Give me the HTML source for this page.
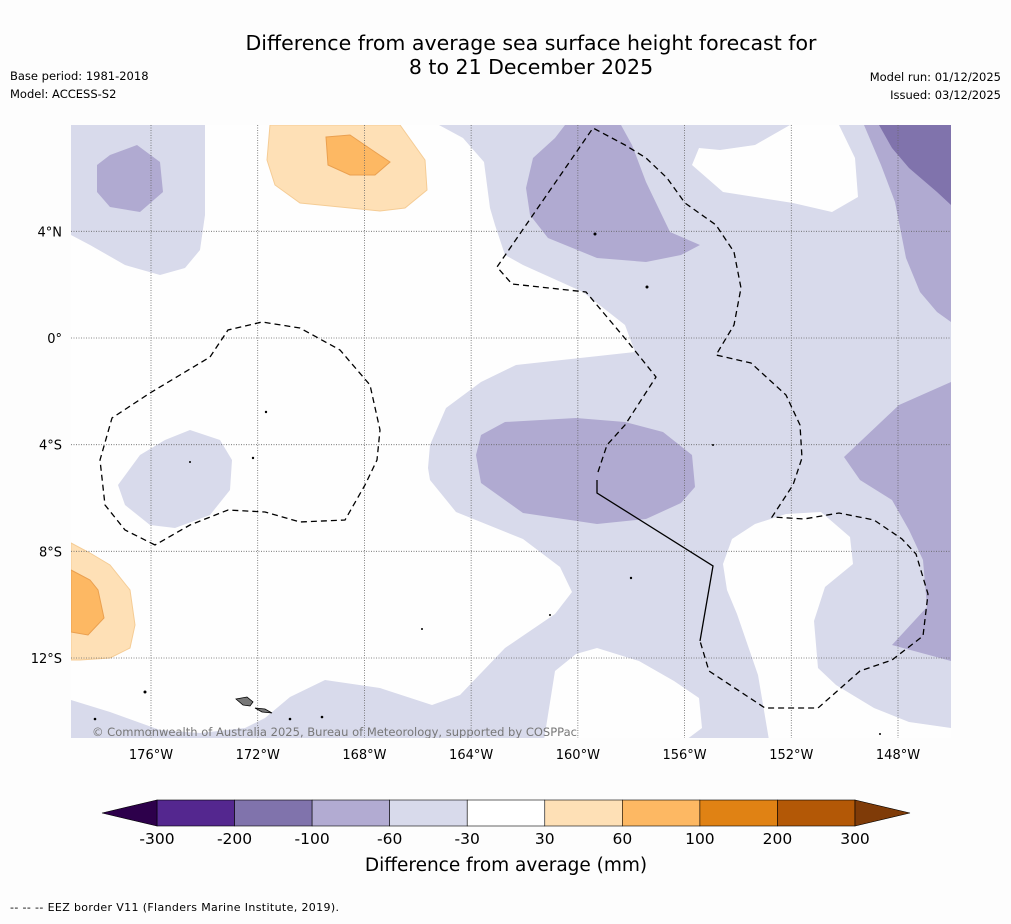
<!DOCTYPE html>
<html><head><meta charset="utf-8"><style>
html,body{margin:0;padding:0;background:#fdfdfd;}
body{width:1011px;height:919px;position:relative;overflow:hidden;font-family:"Liberation Sans","DejaVu Sans",sans-serif;}
svg text{font-family:"DejaVu Sans","Liberation Sans",sans-serif;}
</style></head><body>
<svg id="chart" width="1011" height="919" viewBox="0 0 1011 919" xmlns="http://www.w3.org/2000/svg">
<text x="531" y="50" font-size="20.5" text-anchor="middle" fill="#000">Difference from average sea surface height forecast for</text>
<text x="531" y="74" font-size="20.5" text-anchor="middle" fill="#000">8 to 21 December 2025</text>
<text x="10" y="80" font-size="11.5">Base period: 1981-2018</text>
<text x="10" y="98" font-size="11.5">Model: ACCESS-S2</text>
<text x="1001" y="81" font-size="11.5" text-anchor="end">Model run: 01/12/2025</text>
<text x="1001" y="99" font-size="11.5" text-anchor="end">Issued: 03/12/2025</text>
<defs><clipPath id="mapclip"><rect x="71" y="125" width="880" height="613"/></clipPath></defs>
<g id="map" clip-path="url(#mapclip)">
<rect x="71" y="125" width="880" height="613" fill="#fefefe"/>
<g fill="#d8daeb">
<polygon points="71,125 205,125 205,215 200,250 185,268 160,275 125,265 90,245 71,235"/>
<polygon points="439,125 463,138 484,162 490,208 495,225 505,255 523,265 583,292 625,325 635,352 516,365 481,382 446,408 430,445 428,468 430,480 456,512 523,539 560,567 572,592 555,614 505,648 460,695 432,705 380,688 325,680 290,697 265,718 245,728 200,733 160,730 110,712 71,700 71,738 951,738 951,125"/>
<polygon points="118,485 140,455 165,440 190,430 220,440 232,460 230,490 210,515 175,528 150,525 125,505"/>
</g>
<g fill="#fefefe">
<polygon points="692,165 699,148 720,150 755,145 790,125 839,125 855,158 858,197 832,212 793,203 723,192"/>
<polygon points="544,740 555,671 576,654 597,648 639,661 674,681 699,698 702,728 686,740"/>
<polygon points="769,740 758,675 737,614 727,590 723,564 732,539 755,524 786,514 821,512 850,537 853,564 825,587 814,621 818,668 836,685 874,708 909,722 951,728 951,740"/>
</g>
<g fill="#b0aad1">
<polygon points="97,165 110,155 137,145 160,162 163,192 140,212 110,207 97,192"/>
<polygon points="526,188 533,158 555,138 565,125 621,125 632,145 646,182 670,232 700,245 681,255 646,262 597,258 548,238 530,215"/>
<polygon points="476,455 481,435 505,422 576,418 625,422 663,432 692,455 695,487 681,503 646,519 597,524 523,513 481,483"/>
<polygon points="951,382 899,405 844,457 860,480 892,500 909,530 923,560 927,607 892,645 951,661"/>
<polygon points="864,125 881,165 895,202 906,258 920,292 937,312 951,322 951,125"/>
</g>
<polygon fill="#8073ac" points="879,125 892,148 909,168 937,192 951,205 951,125"/>
<polygon fill="#fee0b6" stroke="#f5cc95" points="270,125 400,125 425,160 427,190 405,208 380,211 300,203 275,185 267,160"/>
<polygon fill="#fdb863" stroke="#eaa050" points="326,137 350,135 375,152 390,162 375,175 350,175 328,165"/>
<polygon fill="#fee0b6" stroke="#f5cc95" points="71,543 90,553 110,565 130,590 135,625 130,648 110,658 80,660 71,660"/>
<polygon fill="#fdb863" stroke="#eaa050" points="71,570 90,580 98,590 104,618 88,635 71,632"/>
<g id="grid" stroke="#666" stroke-width="0.8" stroke-dasharray="1,1.5"></g>
<g fill="none" stroke="#000" stroke-width="1.3" stroke-dasharray="6,4">
<polyline points="155,545 125,530 105,505 100,460 112,418 150,393 180,375 210,357 228,330 262,322 300,328 340,350 370,385 380,430 377,460 365,485 345,520 300,522 265,512 228,510 190,525 155,545"/>
<polyline points="598,472 607,445 625,425 656,377 628,342 586,292 512,284 497,267 593,128 625,145 646,158 667,178 685,203 716,225 734,252 741,288 734,325 716,355 751,363 786,395 800,425 802,458 793,485 772,517 804,519 839,513 874,520 902,539 916,554 928,594 923,636 892,660 860,671 818,708 765,708 709,671 700,641"/>
</g>
<polyline fill="none" stroke="#000" stroke-width="1.3" points="597,480 597,493 713,566 700,641"/>
<g fill="#777" stroke="#000" stroke-width="0.8">
<polygon points="236,699 247,697 253,702 250,706 243,705"/>
<polygon points="255,708 265,709 272,713 262,712"/>
</g>
<g fill="#000">
<circle cx="145" cy="692" r="1.5"/><circle cx="266" cy="412" r="1.2"/><circle cx="253" cy="458" r="1.2"/><circle cx="595" cy="234" r="1.5"/><circle cx="647" cy="287" r="1.5"/><circle cx="631" cy="578" r="1.2"/><circle cx="422" cy="629" r="1"/><circle cx="550" cy="615" r="1"/><circle cx="713" cy="445" r="1"/><circle cx="290" cy="719" r="1.3"/><circle cx="322" cy="717" r="1.3"/><circle cx="95" cy="719" r="1.3"/><circle cx="880" cy="734" r="1"/><circle cx="190" cy="462" r="1"/>
</g>
<text x="92" y="736" font-size="11.5" fill="#777" textLength="485">© Commonwealth of Australia 2025, Bureau of Meteorology, supported by COSPPac</text>
</g>
<g id="axes"></g>
<g id="colorbar"></g>
<text x="506" y="871" font-size="18.5" text-anchor="middle">Difference from average (mm)</text>
<text x="10" y="911" font-size="11" textLength="329">--  --  -- EEZ border V11 (Flanders Marine Institute, 2019).</text>
</svg>
<script>
const lonTicks = [-176, -172, -168, -164, -160, -156, -152, -148];
const lonLabels = ["176°W","172°W","168°W","164°W","160°W","156°W","152°W","148°W"];
const latTicks = [4, 0, -4, -8, -12];
const latLabels = ["4°N","0°","4°S","8°S","12°S"];
const cbLevels = [-300, -200, -100, -60, -30, 30, 60, 100, 200, 300];
const cbColors = ["#54278f","#8073ac","#b2abd2","#d8daeb","#ffffff","#fee0b6","#fdb863","#e08214","#b35806"];
const cbExtendColors = ["#2d004b","#7f3b08"];
const NS = "http://www.w3.org/2000/svg";
function lonX(lon){ return 151 + (lon + 176) * (898 - 151) / 28; }
function latY(lat){ return 338 - lat * (658 - 338) / 12; }
const grid = document.getElementById('grid');
const axes = document.getElementById('axes');
lonTicks.forEach((v, i) => {
  const l = document.createElementNS(NS, 'line');
  l.setAttribute('x1', lonX(v)); l.setAttribute('x2', lonX(v)); l.setAttribute('y1', 125); l.setAttribute('y2', 738);
  
  
  grid.appendChild(l);
  const t = document.createElementNS(NS, 'text');
  t.setAttribute('x', lonX(v)); t.setAttribute('y', 759); t.setAttribute('font-size', '13'); t.setAttribute('text-anchor', 'middle');
  t.textContent = lonLabels[i];
  
  
  axes.appendChild(t);
});
latTicks.forEach((v, i) => {
  const l = document.createElementNS(NS, 'line');
  l.setAttribute('x1', 71); l.setAttribute('x2', 951); l.setAttribute('y1', latY(v)); l.setAttribute('y2', latY(v));
  
  
  grid.appendChild(l);
  const t = document.createElementNS(NS, 'text');
  t.setAttribute('x', 62); t.setAttribute('y', latY(v) + 5); t.setAttribute('font-size', '13'); t.setAttribute('text-anchor', 'end');
  t.textContent = latLabels[i];
  
  
  axes.appendChild(t);
});
const cb = document.getElementById('colorbar');
const cbX0 = 157, cbX1 = 855, cbY = 800, cbH = 26;
const n = cbColors.length, w = (cbX1 - cbX0) / n;
function cbX(i){ return cbX0 + i * w; }
cbColors.forEach((c, i) => {
  const r = document.createElementNS(NS, 'rect');
  r.setAttribute('x', cbX(i)); r.setAttribute('y', cbY); r.setAttribute('width', w); r.setAttribute('height', cbH);
  r.setAttribute('fill', c); r.setAttribute('stroke', '#000'); r.setAttribute('stroke-width', '0.6');
  
  
  cb.appendChild(r);
});
const triL = document.createElementNS(NS, 'polygon');
triL.setAttribute('points', `102,${cbY + cbH/2} ${cbX0},${cbY} ${cbX0},${cbY + cbH}`);
triL.setAttribute('fill', cbExtendColors[0]); triL.setAttribute('stroke', '#000'); triL.setAttribute('stroke-width', '0.6');


cb.appendChild(triL);
const triR = document.createElementNS(NS, 'polygon');
triR.setAttribute('points', `910,${cbY + cbH/2} ${cbX1},${cbY} ${cbX1},${cbY + cbH}`);
triR.setAttribute('fill', cbExtendColors[1]); triR.setAttribute('stroke', '#000'); triR.setAttribute('stroke-width', '0.6');


cb.appendChild(triR);
cbLevels.forEach((v, i) => {
  const t = document.createElementNS(NS, 'text');
  t.setAttribute('x', cbX(i)); t.setAttribute('y', 844); t.setAttribute('font-size', '15.5'); t.setAttribute('text-anchor', 'middle');
  t.textContent = String(v);
  
  
  cb.appendChild(t);
});
</script>
</body></html>
